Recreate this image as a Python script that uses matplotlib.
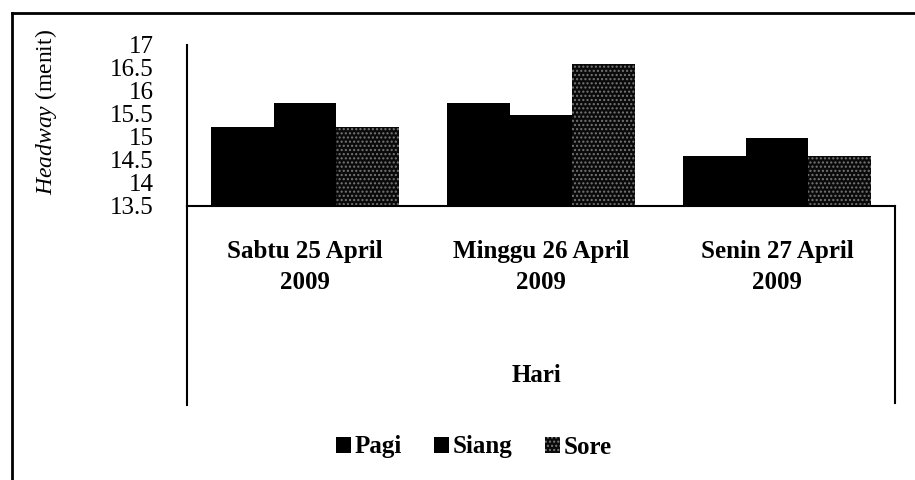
import numpy as np
import matplotlib.pyplot as plt
from matplotlib.lines import Line2D

# data
hari = ["Sabtu 25 April\n2009", "Minggu 26 April\n2009", "Senin 27 April\n2009"]
pagi = [15.22, 15.74, 14.59]
siang = [15.74, 15.48, 14.98]
sore = [15.22, 16.59, 14.59]
yticks = [13.5, 14, 14.5, 15, 15.5, 16, 16.5, 17]

plt.rcParams['font.family'] = ['Liberation Serif', 'DejaVu Serif']
plt.rcParams['mathtext.fontset'] = 'custom'
plt.rcParams['mathtext.rm'] = 'Liberation Serif'
plt.rcParams['mathtext.it'] = 'Liberation Serif:italic'

fig = plt.figure(figsize=(9.15, 4.8), dpi=100)
ax = fig.add_axes([187 / 915, 274 / 480, 708 / 915, 161 / 480])

x = np.arange(len(hari))
w = 0.8 / 3
base = 13.5
ax.bar(x - w, np.array(pagi) - base, w, bottom=base, color='black', label='Pagi')
ax.bar(x, np.array(siang) - base, w, bottom=base, color='black', label='Siang')
ax.bar(x + w, np.array(sore) - base, w, bottom=base, color='#0a0a0a',
       edgecolor='#777777', hatch='....', linewidth=0, label='Sore')

ax.set_xlim(-0.5, 2.5)
ax.set_ylim(13.5, 17)
ax.set_yticks(yticks)
ax.set_yticklabels([f"{v:g}" for v in yticks], fontsize=18)
ax.tick_params(axis='y', length=0, pad=24)
ax.set_xticks([])
for s in ['top', 'right']:
    ax.spines[s].set_visible(False)
ax.spines['left'].set_linewidth(1.5)
ax.spines['bottom'].set_linewidth(1.5)

# category labels and axis title below the axis
for i, lab in enumerate(hari):
    xf = (187 + 236 * (i + 0.5)) / 915
    fig.text(xf, 1 - 267 / 480, lab, ha='center', va='center', fontsize=18,
             fontweight='bold', linespacing=1.45)
fig.text(537 / 915, 1 - 375 / 480, "Hari", ha='center', va='center', fontsize=18,
         fontweight='bold')

fig.text(46 / 915, 1 - 112 / 480, r"$\it{Headway}$ (menit)", rotation=90,
         ha='center', va='center', fontsize=17)

# box lines beneath the axis (left and right)
fig.add_artist(Line2D([187 / 915, 187 / 915], [1 - 206 / 480, 1 - 405 / 480],
                      color='black', lw=1.5))
fig.add_artist(Line2D([895 / 915, 895 / 915], [1 - 206 / 480, 1 - 403 / 480],
                      color='black', lw=1.5))
# outer chart border
fig.add_artist(Line2D([12 / 915, 12 / 915], [0, 1 - 13 / 480], color='black', lw=2))
fig.add_artist(Line2D([12 / 915, 1], [1 - 13 / 480, 1 - 13 / 480], color='black', lw=2))

fig.legend(loc='center', bbox_to_anchor=(474 / 915, 1 - 447 / 480), ncol=3,
           frameon=False, handlelength=0.6, handleheight=0.6,
           handletextpad=0.15, columnspacing=1.3, prop={'weight': 'bold', 'size': 18})

fig.savefig('out.png', dpi=100)
